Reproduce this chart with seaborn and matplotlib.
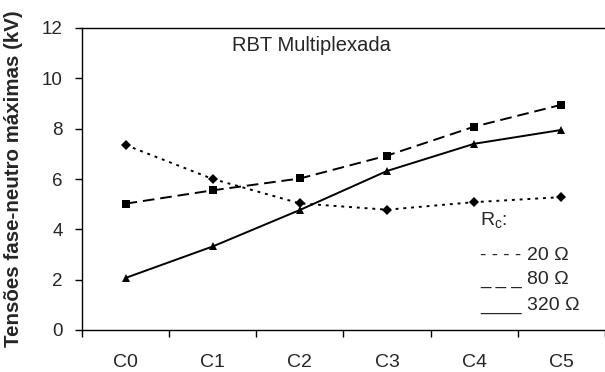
import matplotlib
matplotlib.use("Agg")
import matplotlib.pyplot as plt
import seaborn as sns
import pandas as pd
from matplotlib.ticker import FixedLocator

categories = ["C0", "C1", "C2", "C3", "C4", "C5"]
v20 = [7.35, 6.0, 5.03, 4.78, 5.08, 5.28]
v80 = [5.02, 5.55, 6.02, 6.93, 8.08, 8.95]
v320 = [2.07, 3.32, 4.77, 6.32, 7.4, 7.95]
series_names = ["20 Ω", "80 Ω", "320 Ω"]
legend_symbols = ["- - - -", "_ _ _", "____"]
yticks = [0, 2, 4, 6, 8, 10, 12]

sns.set_theme(style="white")
plt.rcParams['font.family'] = ['Liberation Sans', 'DejaVu Sans']
plt.rcParams['mathtext.fontset'] = 'custom'
plt.rcParams['mathtext.rm'] = 'Liberation Sans'

rows = []
for name, vals in zip(series_names, [v20, v80, v320]):
    for c, v in zip(categories, vals):
        rows.append({"cat": c, "val": v, "serie": name})
df = pd.DataFrame(rows)

fig = plt.figure(figsize=(6.05, 3.72), dpi=100)
ax = fig.add_axes([82/605, 42/372, 1 - 82/605, 302/372])

sns.lineplot(data=df, x="cat", y="val", hue="serie", style="serie",
             palette={n: "black" for n in series_names},
             dashes={"20 Ω": (1.5, 2.5), "80 Ω": (6, 3), "320 Ω": ""},
             markers={"20 Ω": "D", "80 Ω": "s", "320 Ω": "^"},
             markersize=5.5, markeredgewidth=0, linewidth=1.4,
             legend=False, ax=ax, sort=False)

ax.set_xlim(-0.5, 5.5)
ax.set_ylim(0, 12)
ax.set_yticks(yticks)
ax.set_xticks(range(len(categories)))
ax.set_xticklabels(categories)
ax.xaxis.set_minor_locator(FixedLocator([i - 0.5 for i in range(len(categories) + 1)]))
ax.tick_params(axis='x', which='major', length=0, pad=17, labelsize=14)
ax.tick_params(axis='x', which='minor', length=5, width=1, color='black', direction='out', bottom=True)
ax.tick_params(axis='y', length=5, width=1, color='black', direction='out', left=True, labelsize=13.5, pad=9)
ax.set_xlabel("")

# y label: bold, fitted to the reference's length (~335 px)
ylab = ax.set_ylabel("Tensões fase-neutro máximas (kV)", fontsize=13, fontweight="bold")
ax.yaxis.set_label_coords(-(82 - 23) / 523, 0.5)
fig.canvas.draw()
r = fig.canvas.get_renderer()
h = ylab.get_window_extent(r).height
ylab.set_fontsize(13 * 335.0 / h)
ax.yaxis.set_label_coords(-(82 - 23) / 523, 0.5)

for s in ["left", "bottom", "top"]:
    ax.spines[s].set_visible(True)
    ax.spines[s].set_color("black")
    ax.spines[s].set_linewidth(1)
ax.spines["right"].set_visible(False)

ax.text(1.22, 11.3, "RBT Multiplexada", fontsize=14.5, va="center", ha="left")
ax.text(4.07, 4.37, r"$\mathregular{R_c}$:", fontsize=14, va="center", ha="left")
for yv, sym, name in zip([2.98, 1.99, 0.99], legend_symbols, series_names):
    ax.text(4.07, yv, sym, fontsize=13.5, va="center", ha="left")
    ax.text(4.6, yv, name, fontsize=14, va="center", ha="left")

fig.savefig("out.png", dpi=100)
